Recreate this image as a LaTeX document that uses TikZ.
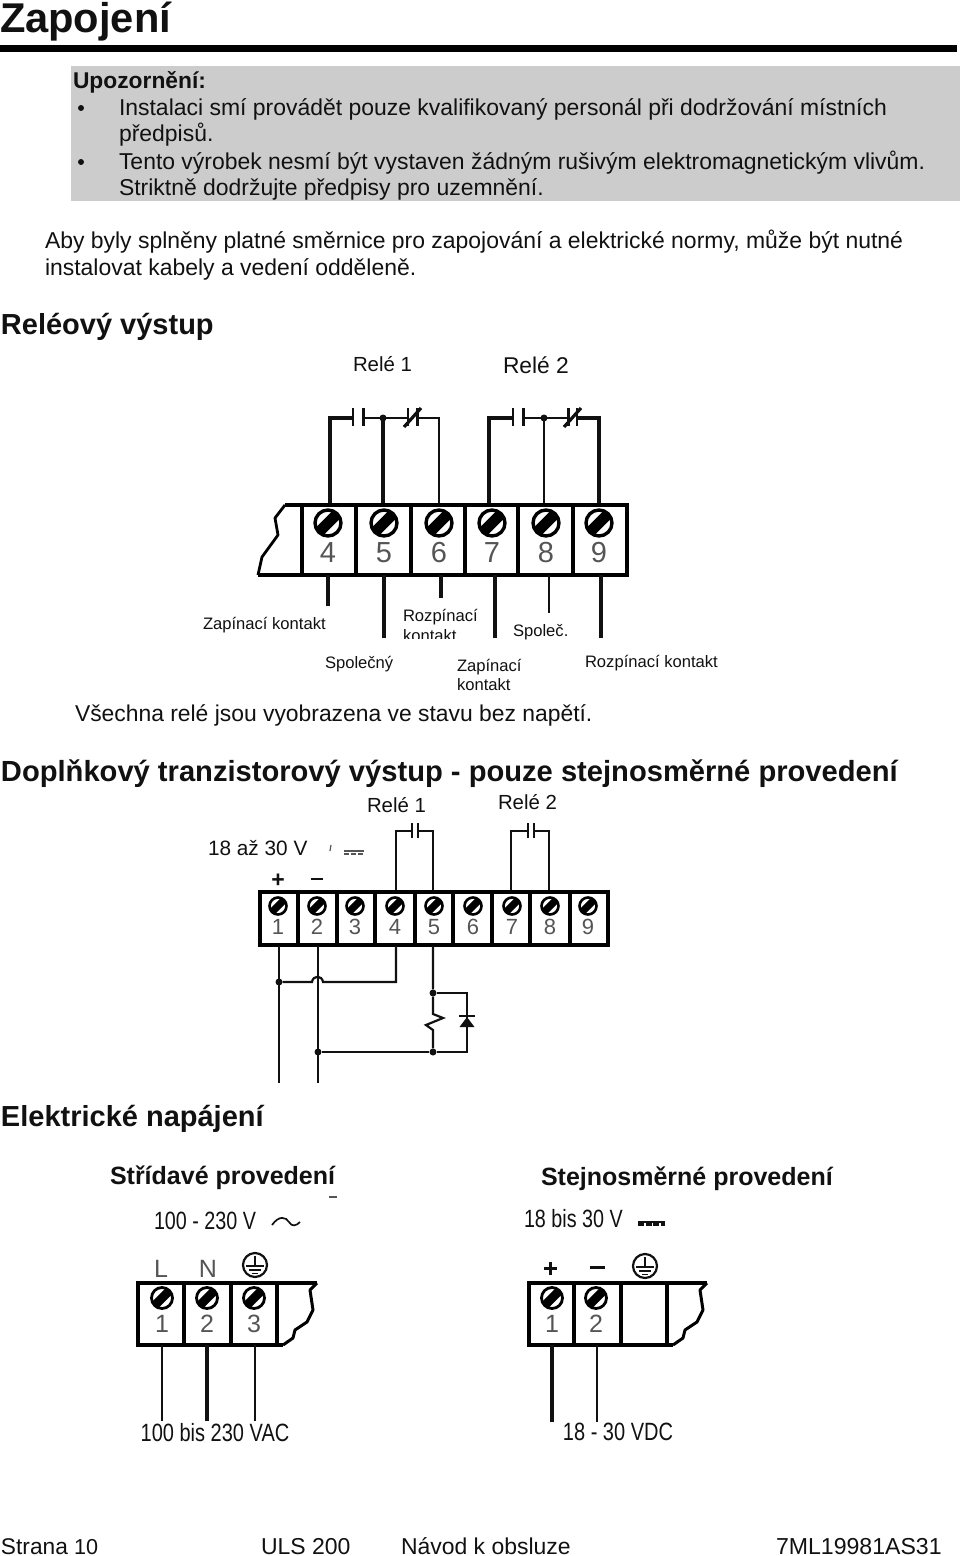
\documentclass[tikz,border=0pt]{standalone}
\usepackage{fontspec}
\setmainfont{Liberation Sans}
\newcommand{\fs}[1]{\fontsize{#1}{#1}\selectfont}
\newcommand{\cnd}[2]{\scalebox{#1}[1]{#2}}
\definecolor{ink}{HTML}{111111}
\definecolor{greybox}{HTML}{CCCCCC}
\definecolor{numgray}{HTML}{555555}
\tikzset{
  txt/.style={anchor=base west,inner sep=0pt,outer sep=0pt,text=ink},
  ctxt/.style={anchor=base,inner sep=0pt,outer sep=0pt,text=ink},
  wirethick/.style={line width=3.4pt,ink},
  wire/.style={line width=2.6pt,ink},
  wirethin/.style={line width=1.9pt,ink},
  frame/.style={line width=3.6pt,black,line join=miter},
  screwhead/.style={circle,draw=black,fill=white,inner sep=0pt,outer sep=0pt,
    path picture={\draw[black,line width=#1*0.42pt]
      (path picture bounding box.south west)--(path picture bounding box.north east);}},
  numtxt/.style={anchor=center,inner sep=0pt,text=numgray},
  gndring/.style={circle,draw=ink,line width=2.2pt,fill=white,minimum size=24pt,inner sep=0pt},
  dot/.style={circle,fill=ink,inner sep=0pt,minimum size=#1},
}
\newcommand{\gndsym}[3]{%
  \node[gndring] (#3) at (#1,#2) {};
  \draw[ink,line width=2pt] (#1,#2-9)--(#1,#2+1);
  \draw[ink,line width=2pt] (#1-9,#2+1)--(#1+9,#2+1);
  \draw[ink,line width=1.8pt] (#1-6,#2+5)--(#1+6,#2+5);
  \draw[ink,line width=1.6pt] (#1-3,#2+8.5)--(#1+3,#2+8.5);
}
\begin{document}
\begin{tikzpicture}[x=1pt,y=-1pt]
\useasboundingbox (0,0) rectangle (960,1556);
\fill[white] (0,0) rectangle (960,1556);
% header
\node[txt] (title) at (0,32) {\fs{41.6}\bfseries Zapojení};
\fill[black] (0,45) rectangle (957,52);
\fill[greybox] (71,66) rectangle (960,201);
\node[txt] (warn) at (73,88) {\fs{22.8}\bfseries Upozornění:};
\fill[ink] (81,108) circle (3);
\fill[ink] (81,162) circle (3);
\node[txt] (w1) at (119,115) {\fs{22.95}Instalaci smí provádět pouze kvalifikovaný personál při dodržování místních};
\node[txt] (w2) at (119,141) {\fs{22.95}předpisů.};
\node[txt] (w3) at (119,169) {\fs{22.95}Tento výrobek nesmí být vystaven žádným rušivým elektromagnetickým vlivům.};
\node[txt] (w4) at (119,195) {\fs{22.95}Striktně dodržujte předpisy pro uzemnění.};
\node[txt] (p1) at (45,248) {\fs{22.95}Aby byly splněny platné směrnice pro zapojování a elektrické normy, může být nutné};
\node[txt] (p2) at (45,275) {\fs{22.95}instalovat kabely a vedení odděleně.};
\node[txt] (h1) at (1,334) {\fs{29}\bfseries Reléový výstup};
% relay section
\node[txt] (rr1) at (353,371) {\fs{20.4}Relé 1};
\node[txt] (rr2) at (503,373) {\fs{22.8}Relé 2};
% relay wires and contacts
\foreach \n/\x in {4/330,5/383,6/439,7/489,8/544,9/599}{\coordinate (rt\n) at (\x,505);\coordinate (rc\n) at (\x,418);}
\draw[wirethick] (rt4)--(rc4)--(353,418);
\draw[wirethick] (rt5)--(rc5);
\draw[wirethin] (rt6)--(rc6)--(417,418);
\draw[wire] (363,418)--(rc5)--(408,418);
\draw[wirethick] (rt7)--(rc7)--(513,418);
\draw[wirethin] (rt8)--(rc8);
\draw[wire] (523,418)--(rc8)--(568,418);
\draw[wirethick] (rt9)--(rc9)--(577,418);
\foreach \x in {353,408,513,577}{\draw[ink,line width=2pt] (\x,408)--(\x,426);}
\foreach \x in {363,417,523,568}{\draw[ink,line width=3pt] (\x,408)--(\x,426);}
\draw[ink,line width=3.2pt] (404,427)--(421,408);
\draw[ink,line width=3.2pt] (564,427)--(581,408);
\node[dot=7pt] (j1) at (rc5) {};
\node[dot=7pt] (j2) at (rc8) {};
% relay block
\draw[frame] (285,505)--(627,505)--(627,575)--(258,575);
\draw[line width=2.8pt,black,line join=round] (285,505)--(275,518)--(278,535)--(262,557)--(258,575);
\foreach \x in {302,356,411,465,518,573}{\draw[black,line width=4.4pt] (\x,505)--(\x,575);}
\foreach \n/\x in {4/328,5/384,6/439,7/492,8/546,9/599}{
  \node[screwhead=26,minimum size=26pt,line width=3.4pt] (rs\n) at (\x,523) {};
  \node[numtxt] (rn\n) at (\x,553) {\fs{29}\n};
}
% relay lower wires
\coordinate (rb4) at (328,575);\coordinate (re4) at (328,606);
\coordinate (rb5) at (384,575);\coordinate (re5) at (384,638);
\coordinate (rb6) at (441,575);\coordinate (re6) at (441,598);
\coordinate (rb7) at (495,575);\coordinate (re7) at (495,638);
\coordinate (rb8) at (549,575);\coordinate (re8) at (549,613);
\coordinate (rb9) at (601,575);\coordinate (re9) at (601,638);
\foreach \n in {4,5,6,7,9}{\draw[wirethick] (rb\n)--(re\n);}
\draw[wire] (rb8)--(re8);
% labels
\node[txt] (l1) at (203,629) {\fs{16.6}Zapínací kontakt};
\node[txt] (l2) at (403,621) {\fs{16.6}Rozpínací};
\begin{scope}
\clip (395,625) rectangle (500,638);
\node[txt] (l2b) at (403,641) {\fs{16.6}kontakt};
\end{scope}
\node[txt] (l3) at (513,636) {\fs{16.6}Společ.};
\node[txt] (l4) at (325,668) {\fs{16.6}Společný};
\node[txt] (l5) at (457,671) {\fs{16.6}Zapínací};
\node[txt] (l5b) at (457,690) {\fs{16.6}kontakt};
\node[txt] (l6) at (585,667) {\fs{16.6}Rozpínací kontakt};
\node[txt] (allrel) at (75,721) {\fs{22.87}Všechna relé jsou vyobrazena ve stavu bez napětí.};
% transistor
\node[txt] (h2) at (1,781) {\fs{29.13}\bfseries Doplňkový tranzistorový výstup - pouze stejnosměrné provedení};
\node[txt] (tr1) at (367,812) {\fs{20.4}Relé 1};
\node[txt] (tr2) at (498,809) {\fs{20.4}Relé 2};
\node[txt] (tv) at (208,855) {\fs{20.8}18 až 30 V};
\draw[numgray,line width=1.2pt] (331,845)--(330,851);
\draw[numgray,line width=1.2pt] (344,851)--(364,851);
\draw[numgray,line width=1.8pt,dash pattern=on 5pt off 2pt] (344,854)--(364,854);
\node[ctxt] (tp) at (278,887) {\fs{23}\bfseries +};
\draw[ink,line width=2.6pt] (311,879)--(323,879);
\foreach \n/\x in {4/396,5/433,7/511,8/549}{\coordinate (tt\n) at (\x,891);\coordinate (tc\n) at (\x,831);}
\draw[ink,line width=2pt] (tt4)--(tc4)--(412,831);
\draw[ink,line width=2pt] (tt5)--(tc5)--(418,831);
\draw[ink,line width=2pt] (tt7)--(tc7)--(528,831);
\draw[ink,line width=2pt] (tt8)--(tc8)--(534,831);
\foreach \x in {412,418,528,534}{\draw[ink,line width=2.2pt] (\x,823)--(\x,838);}
\draw[line width=4.4pt,black,fill=white] (260,892) rectangle (608,945);
\foreach \x in {298,337,375,415,453,492,530,570}{\draw[black,line width=3.4pt] (\x,892)--(\x,945);}
\foreach \n/\x in {1/278,2/317,3/355,4/395,5/434,6/473,7/512,8/550,9/588}{
  \node[screwhead=17,minimum size=17pt,line width=2.6pt] (ts\n) at (\x,906) {};
  \node[numtxt] (tn\n) at (\x,927) {\fs{22}\n};
}
\coordinate (tb1) at (279,946);\coordinate (te1) at (279,1083);
\coordinate (tb2) at (318,946);\coordinate (te2) at (318,1083);
\coordinate (tb4) at (396,946);\coordinate (tb5) at (433,946);
\draw[wire] (tb1)--(te1);
\draw[wire] (tb2)--(te2);
\node[dot=7pt] (tj1) at (279,982) {};
\node[dot=7pt] (tj2) at (318,1052) {};
\node[dot=7pt] (tj3) at (433,993) {};
\node[dot=7pt] (tj4) at (433,1052) {};
\draw[ink,line width=2.2pt] (tj1)--(312,982) .. controls (313,975) and (322,975) .. (323,982)--(396,982)--(tb4);
\draw[ink,line width=2.2pt] (tb5)--(tj3)--(433,1014)--(443,1018)--(426,1025)--(433,1030)--(tj4);
\draw[wire] (tj3)--(467,993)--(467,1052)--(tj4)--(tj2);
\fill[ink] (467,1017)--(459.5,1027)--(474.5,1027)--cycle;
\draw[ink,line width=2.4pt] (459,1016)--(475,1016);
% power
\node[txt] (h3) at (1,1126) {\fs{29}\bfseries Elektrické napájení};
\node[txt] (h4) at (110,1184) {\fs{25}\bfseries Střídavé provedení};
\node[txt] (h5) at (541,1185) {\fs{25}\bfseries Stejnosměrné provedení};
\fill[numgray] (329,1196) rectangle (337,1198);
% AC
\node[txt] (acv) at (154,1229) {\fs{25}\cnd{0.79}{100 - 230 V}};
\draw[ink,line width=1.7pt] (272,1225) .. controls (279,1215) and (286,1217) .. (289,1222) .. controls (292,1227) and (296,1226) .. (300,1222);
\node[ctxt] (acl) at (161,1277) {\fs{25}\textcolor{numgray}{L}};
\node[ctxt] (acn) at (208,1277) {\fs{25}\textcolor{numgray}{N}};
\gndsym{255}{1265}{acg}
\draw[frame] (317,1283)--(138,1283)--(138,1345)--(283,1345);
\draw[black,line width=3pt,line join=round] (317,1283)--(310,1290)--(313,1310)--(307,1322)--(295,1330)--(293,1338)--(283,1345);
\foreach \x in {184,231,277}{\draw[black,line width=3.4pt] (\x,1283)--(\x,1345);}
\foreach \n/\x in {1/162,2/207,3/254}{
  \node[screwhead=21,minimum size=21pt,line width=2.8pt] (as\n) at (\x,1298) {};
  \node[numtxt] (an\n) at (\x,1324) {\fs{25}\textcolor{numgray}{\n}};
}
\coordinate (ab1) at (162,1345);\coordinate (ae1) at (162,1421);
\coordinate (ab2) at (207,1345);\coordinate (ae2) at (207,1421);
\coordinate (ab3) at (255,1345);\coordinate (ae3) at (255,1421);
\draw[wire] (ab1)--(ae1);
\draw[wirethick] (ab2)--(ae2);
\draw[wire] (ab3)--(ae3);
\node[ctxt] (acbot) at (215,1441) {\fs{25}\cnd{0.8}{100 bis 230 VAC}};
% DC
\node[txt] (dcv) at (524,1227) {\fs{25}\cnd{0.79}{18 bis 30 V}};
\draw[ink,line width=2.2pt] (638,1222)--(665,1222);
\draw[ink,line width=2.4pt,dash pattern=on 6pt off 1.5pt] (638,1224.5)--(665,1224.5);
\draw[ink,line width=3pt] (544,1268)--(557,1268);
\draw[ink,line width=3pt] (550.5,1261.5)--(550.5,1275);
\draw[ink,line width=3pt] (590,1267)--(605,1267);
\gndsym{645}{1266}{dcg}
\draw[frame] (707,1283)--(529,1283)--(529,1345)--(673,1345);
\draw[black,line width=3pt,line join=round] (707,1283)--(700,1290)--(703,1310)--(697,1322)--(685,1330)--(683,1338)--(673,1345);
\foreach \x in {574,621,667}{\draw[black,line width=3.4pt] (\x,1283)--(\x,1345);}
\foreach \n/\x in {1/552,2/596}{
  \node[screwhead=21,minimum size=21pt,line width=2.8pt] (ds\n) at (\x,1298) {};
  \node[numtxt] (dn\n) at (\x,1324) {\fs{25}\textcolor{numgray}{\n}};
}
\coordinate (db1) at (552,1345);\coordinate (de1) at (552,1422);
\coordinate (db2) at (597,1345);\coordinate (de2) at (597,1422);
\draw[wirethick] (db1)--(de1);
\draw[wirethin] (db2)--(de2);
\node[ctxt] (dcbot) at (618,1440) {\fs{25}\cnd{0.8}{18 - 30 VDC}};
% footer
\node[txt] (f1) at (1,1554) {\fs{22.7}Strana \fs{21.6}10};
\node[txt] (f2) at (261,1554) {\fs{23}ULS 200};
\node[txt] (f3) at (401,1554) {\fs{22.95}Návod k obsluze};
\node[txt] (f4) at (776,1554) {\fs{23.1}7ML19981AS31};
\end{tikzpicture}
\end{document}
